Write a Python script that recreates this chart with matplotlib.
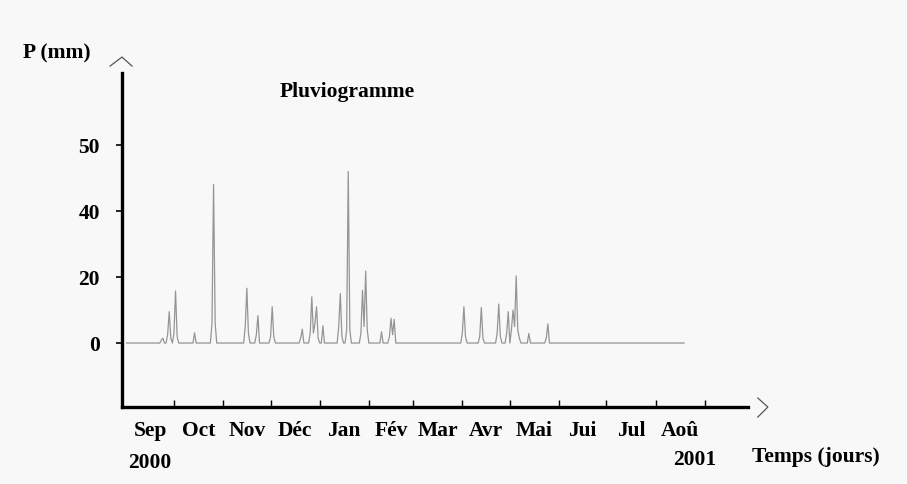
import matplotlib
matplotlib.use("Agg")
from matplotlib import pyplot as plt
import numpy as np

# Daily rainfall, day 0 = 1 Sep 2000, record ends ~20 Aug 2001
n_days = 353

# Rain days and amounts (mm)
rain_days = [22, 23, 26, 27, 28, 30, 31, 32, 43, 54, 55, 56,
             75, 76, 77, 82, 83, 91, 92, 93, 110, 111, 116, 117, 118, 119, 120, 121, 124,
             134, 135, 136, 139, 140, 141, 148, 149, 150, 151, 152, 161, 166, 167, 168, 169,
             212, 213, 214, 223, 224, 225, 234, 235, 236, 240, 241, 243, 244, 245, 246, 247, 248,
             254, 265, 266]
rain_mm = [0.8, 1.5, 2.5, 9.5, 1.5, 3.0, 15.8, 2.0, 3.1, 6.0, 48.0, 6.0,
           5.0, 16.6, 3.0, 2.5, 8.3, 2.0, 11.0, 2.0, 1.5, 4.2, 3.0, 14.0, 3.0, 6.0, 11.0, 1.5, 5.2,
           5.0, 15.0, 2.0, 4.0, 52.0, 4.0, 3.0, 16.0, 5.0, 21.8, 4.0, 3.4, 2.0, 7.5, 2.5, 7.2,
           3.0, 11.0, 2.0, 2.0, 10.8, 1.5, 3.0, 11.8, 2.0, 3.0, 9.5, 4.0, 10.0, 5.0, 20.3, 4.0, 1.5,
           2.9, 1.5, 5.8]

months = ["Sep", "Oct", "Nov", "Déc", "Jan", "Fév", "Mar", "Avr", "Mai", "Jui", "Jul", "Aoû"]
month_len = [30, 31, 30, 31, 31, 28, 31, 30, 31, 30, 31, 31]

y_ticks = [0, 20, 40, 60]
y_labels = ["0", "20", "40", "50"]

rain = np.zeros(n_days)
rain[rain_days] = rain_mm
days = np.arange(n_days)

bounds = np.cumsum([0] + month_len)
mids = (bounds[:-1] + bounds[1:]) / 2.0

plt.rcParams['font.family'] = ['Liberation Serif', 'DejaVu Serif']
plt.rcParams['font.weight'] = 'bold'

fs = 15.5
bg = '#f8f8f8'
fig = plt.figure(figsize=(9.07, 4.84), dpi=100, facecolor=bg)
ax = fig.add_axes([0.1345, 0.159, 0.690, 0.690], facecolor=bg)

ax.plot(days, rain, color='#959595', lw=0.9)

ax.set_xlim(-2.8, 392.2)
ax.set_ylim(-19.4, 81.8)

for s in ['top', 'right']:
    ax.spines[s].set_visible(False)
for s in ['left', 'bottom']:
    ax.spines[s].set_linewidth(2.4)
    ax.spines[s].set_color('black')

ax.set_yticks(y_ticks)
ax.set_yticklabels(y_labels, fontsize=fs, fontweight='bold')
ax.tick_params(axis='y', direction='out', length=4, width=1.2, pad=12)

ax.set_xticks(bounds[1:])
ax.set_xticklabels([])
ax.tick_params(axis='x', which='major', direction='in', length=5, width=1.0)
ax.set_xticks(mids, minor=True)
ax.set_xticklabels(months, minor=True, fontsize=fs, fontweight='bold')
ax.tick_params(axis='x', which='minor', length=0, pad=10)

# arrow heads at the axis ends
kw = dict(transform=ax.transAxes, clip_on=False, color='#555555', lw=0.9)
ax.plot([-0.019, 0.0, 0.016], [1.021, 1.048, 1.021], **kw)
ax.plot([1.016, 1.032, 1.016], [0.027, 0.0, -0.030], **kw)

fig.text(0.025, 0.890, "P (mm)", fontsize=fs, fontweight='bold', ha='left', va='center')
fig.text(0.383, 0.810, "Pluviogramme", fontsize=fs, fontweight='bold', ha='center', va='center')
fig.text(0.141, 0.043, "2000", fontsize=fs, fontweight='bold', ha='left', va='center')
fig.text(0.766, 0.050, "2001", fontsize=fs, fontweight='bold', ha='center', va='center')
fig.text(0.829, 0.056, "Temps (jours)", fontsize=fs, fontweight='bold', ha='left', va='center')

fig.savefig("out.png", dpi=100, facecolor=bg)
